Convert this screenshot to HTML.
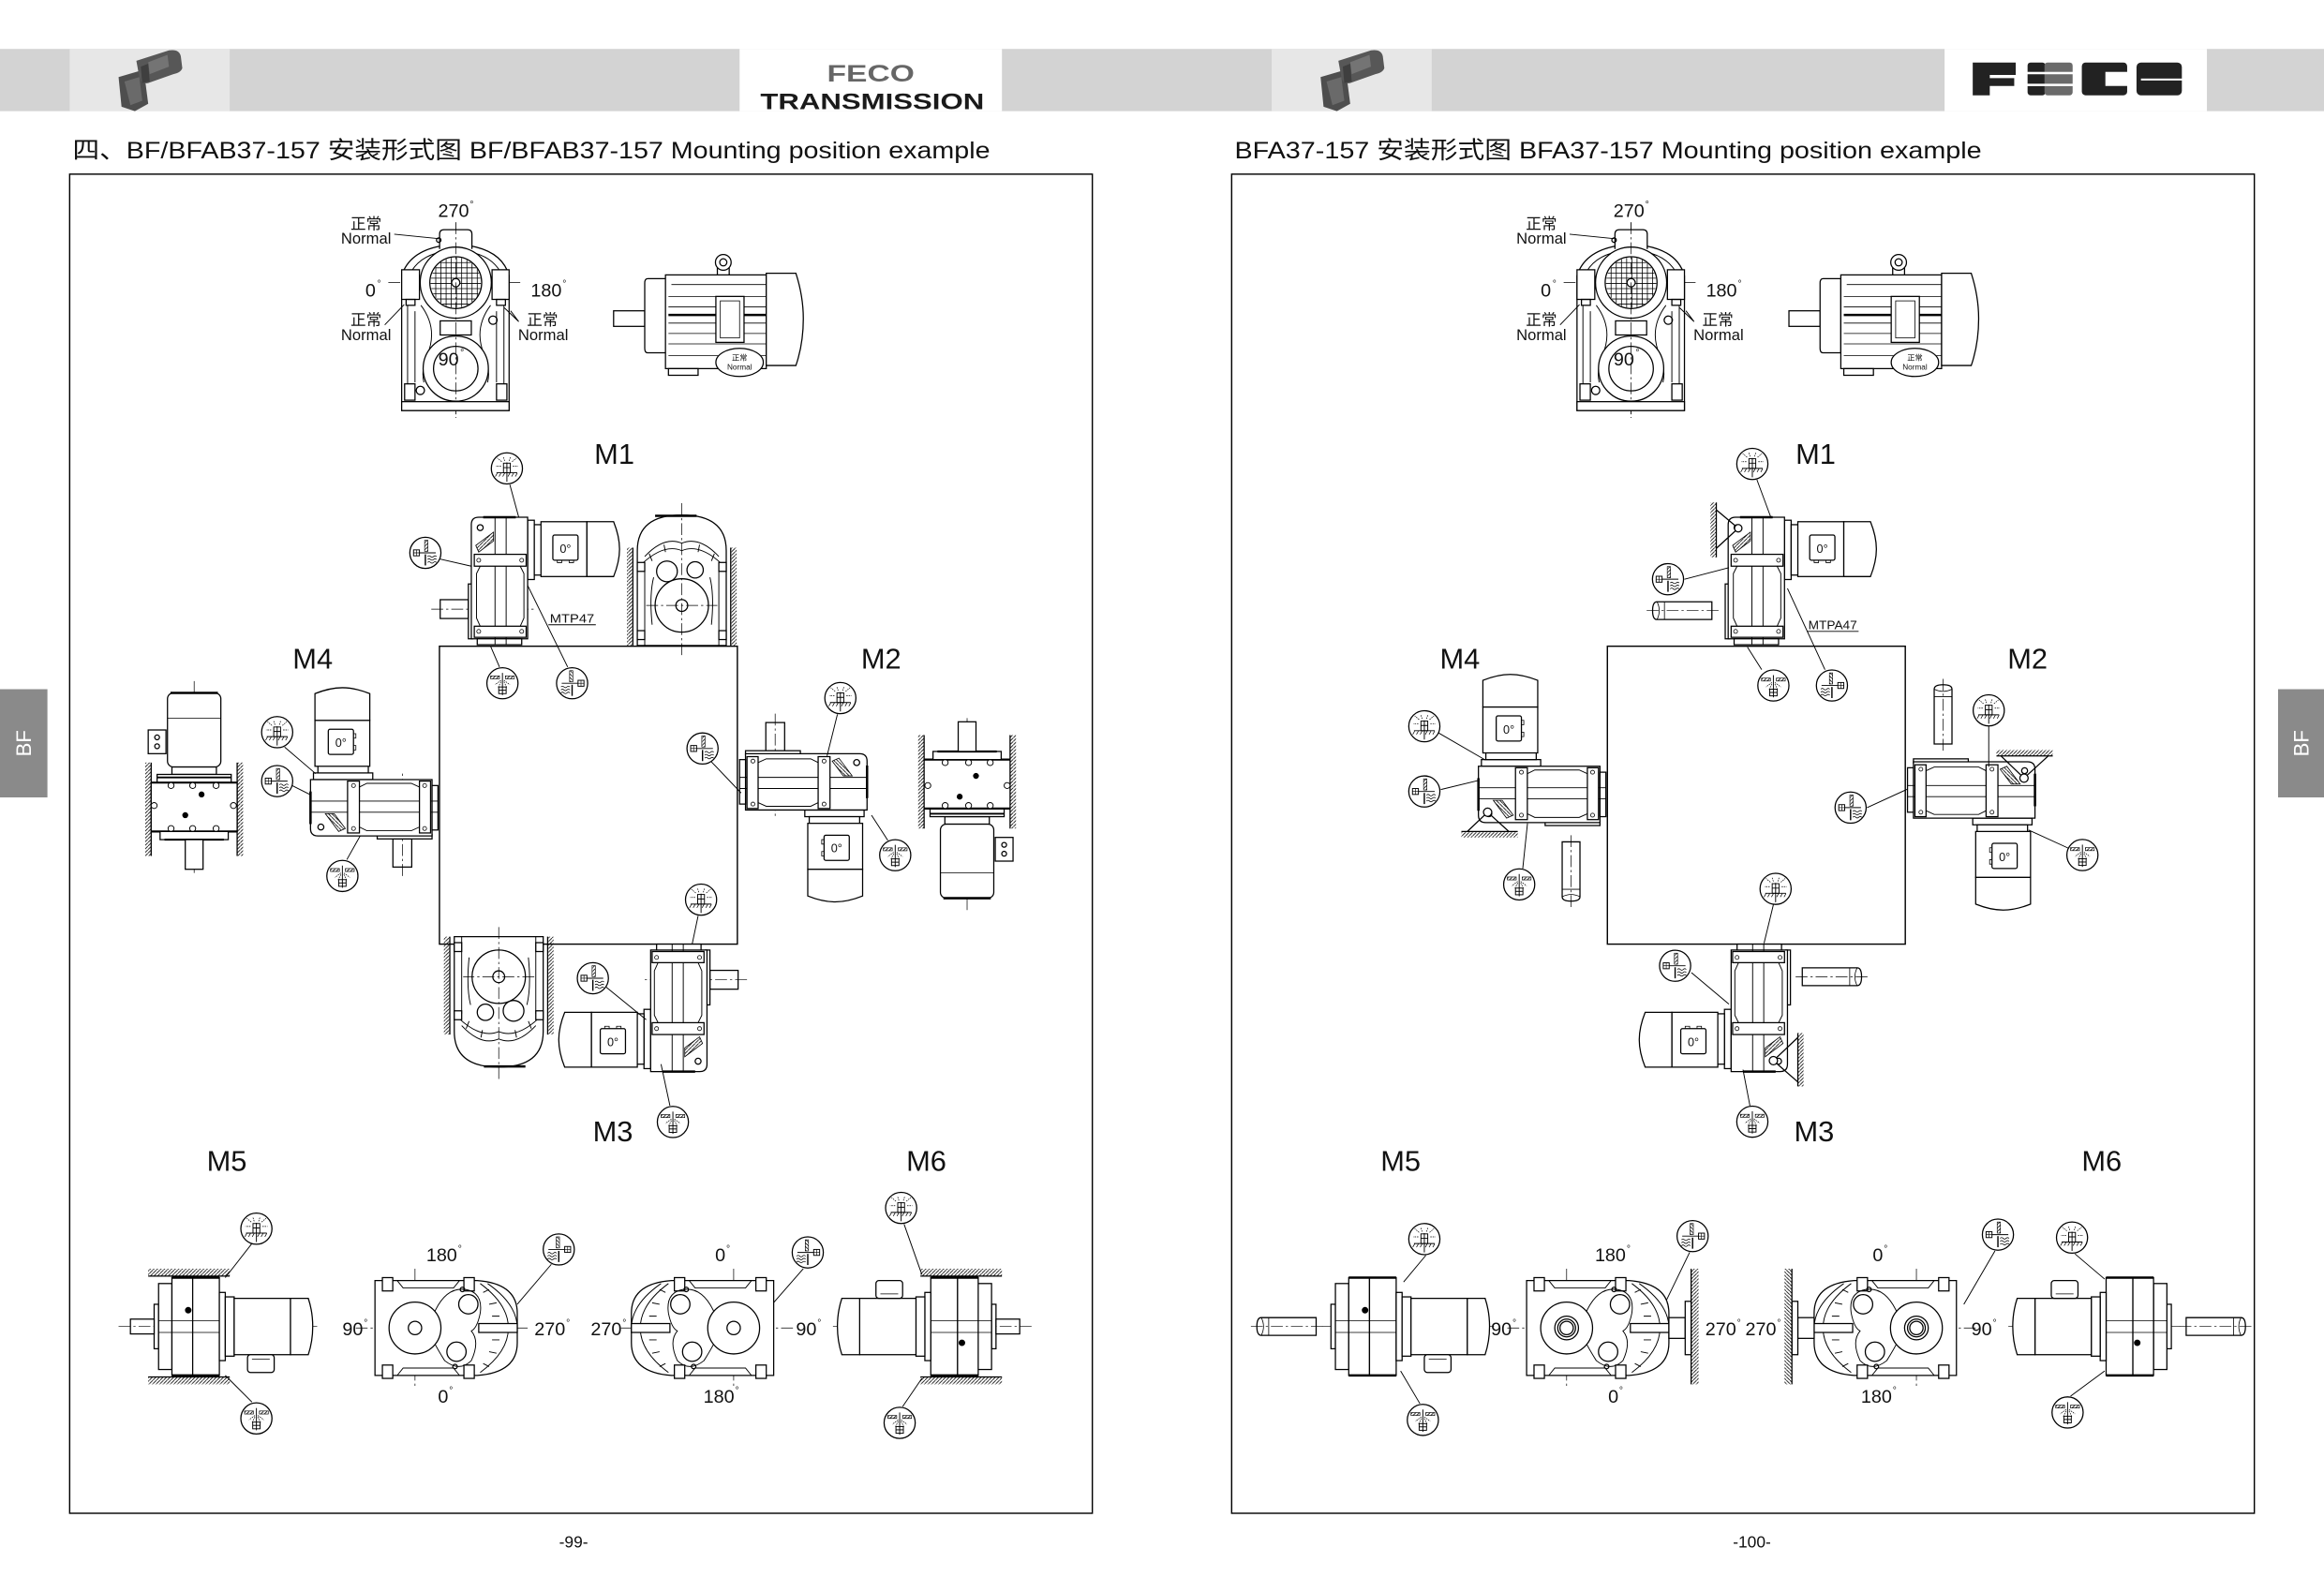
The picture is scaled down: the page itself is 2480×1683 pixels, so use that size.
<!DOCTYPE html>
<html><head><meta charset="utf-8"><style>
html,body{margin:0;padding:0;background:#fff;}
svg{display:block;}
text{font-family:"Liberation Sans","Noto Sans CJK SC",sans-serif;fill:#111;stroke:none;}
</style></head><body>
<svg width="2480" height="1683" viewBox="0 0 1568 1064" preserveAspectRatio="none" xmlns="http://www.w3.org/2000/svg">
<defs>
<pattern id="h" patternUnits="userSpaceOnUse" width="2.4" height="2.4"><path d="M0 2.4L2.4 0" stroke="#000" stroke-width=".5"/></pattern>
<clipPath id="gc"><circle cx="307.5" cy="190.7" r="17"/></clipPath>

<g id="oT" fill="none" stroke="#000" stroke-width=".6">
<circle r="10.5" fill="#fff" stroke-width=".8"/>
<path d="M-7 3H7"/>
<path d="M-6.5 3.2l-1.3 2.3M-4 3.2l-1.3 2.3M-1.5 3.2l-1.3 2.3M2 3.2l-1.3 2.3M4.5 3.2l-1.3 2.3M7 3.2l-1.3 2.3" stroke-width=".45"/>
<rect x="-2.3" y="-3.5" width="4.6" height="6.5"/>
<path d="M0-4V9M-2.3-.5H2.3"/>
<path d="M-3.5-4.5l-3-2.5M3.5-4.5l3-2.5M-4-1.5h-3.5M4-1.5h3.5M-1.5-5l-1-3M1.5-5l1-3" stroke-width=".45" stroke-dasharray="1 .6"/>
</g>
<g id="oB" fill="none" stroke="#000" stroke-width=".6">
<circle r="10.5" fill="#fff" stroke-width=".8"/>
<path d="M-8-5h6v2h-6zM2-5h6v2h-6z" fill="url(#h)" stroke-width=".4"/>
<path d="M0-7V8"/>
<path d="M-1-2l-4 3M1-2l4 3M-1-1l-2 4M1-1l2 4" stroke-width=".45" stroke-dasharray="1 .6"/>
<rect x="-2.5" y="2.5" width="5" height="4.5"/>
<path d="M-2.5 4.7H2.5"/>
</g>
<g id="oS" fill="none" stroke="#000" stroke-width=".6">
<circle r="10.5" fill="#fff" stroke-width=".8"/>
<rect x="-.5" y="-8.5" width="2.2" height="7.5" fill="url(#h)" stroke-width=".4"/>
<path d="M-4 0H7"/>
<rect x="-8" y="-2" width="4" height="4"/><path d="M-8 0h4M-6-2v4" stroke-width=".4"/>
<path d="M0 1V8.5" stroke-width=".9"/>
<path d="M1.5 2.5q1-1 2 0t2 0t2 0M1.5 4.5q1-1 2 0t2 0t2 0M1.5 6.5q1-1 2 0t2 0t2 0" stroke-width=".5"/>
</g>

<g id="svc" fill="none" stroke="#000" stroke-width=".8">
<rect x="18" y="-41" width="4.5" height="40" fill="#fff"/>
<rect x="22.5" y="-38" width="5" height="34" fill="#fff"/>
<rect x="27" y="-40" width="31" height="37" fill="#fff"/>
<path d="M58-40H76Q80-30 80-21.5Q80-13 76-3H58Z" fill="#fff"/>
<rect x="35" y="-31" width="17" height="17" rx="1.2" fill="#fff"/>
<path d="M38-14v1.6h3V-14M46-14v1.6h3V-14" stroke-width=".5"/>
<rect x="-22" y="2" width="3" height="37" fill="#fff"/>
<path d="M-20 39V-38Q-20-43-15-43H18V39Z" fill="#fff"/>
<path d="M-12-43H10" stroke-width="1.6"/>
<rect x="-16" y="39" width="30" height="4" fill="#fff"/>
<path d="M-4-43V43M3.5-43V43" stroke-width=".6"/>
<path d="M-17-24L-5-33V-27L-15-19.5Z" fill="url(#h)" stroke-width=".5"/>
<circle cx="-14" cy="-36" r="2"/>
<rect x="-18" y="-18" width="35" height="8" fill="#fff"/>
<path d="M-14-10L-16.5-5V25L-14 30.5M13-10L15.5-5V25L13 30.5" stroke-width=".6"/>
<rect x="-18" y="30.5" width="35" height="7.5" fill="#fff"/>
<g stroke-width=".5"><circle cx="-15" cy="-14" r="1.3"/><circle cx="14" cy="-14" r="1.3"/><circle cx="-15" cy="34" r="1.3"/><circle cx="14" cy="34" r="1.3"/></g>
</g>
<g id="svs" fill="none" stroke="#000">
<rect x="-41" y="12.6" width="19" height="12.7" fill="#fff" stroke-width=".8"/>
<path d="M-47 19H22" stroke-width=".45" stroke-dasharray="8 2 1.5 2"/>
</g>

<g id="fv" fill="none" stroke="#000" stroke-width=".8">
<rect x="-37" y="-22" width="4" height="66" fill="url(#h)" stroke="none"/>
<rect x="33" y="-22" width="4" height="66" fill="url(#h)" stroke="none"/>
<path d="M-33-22V44M33-22V44"/>
<path d="M-30 44V-20Q-30-44 0-44Q30-44 30-20V44Z" fill="#fff"/>
<path d="M-18-43.5H10" stroke-width="1.6"/>
<path d="M-25-16Q-12-30 0-25Q12-30 25-16M-27-11Q-12-25 0-20Q12-25 27-11" stroke-width=".6"/>
<path d="M-22-18l2 5M-12-24l1 5M12-24l-1 5M22-18l-2 5" stroke-width=".6"/>
<path d="M-25 44V-8M25 44V-8" stroke-width=".6"/>
<path d="M-19-2Q-22 10-20 30M19-2Q22 10 20 30" stroke-width=".6"/>
<circle cx="-10" cy="-6" r="7"/><circle cx="9" cy="-7" r="5.5"/>
<circle cx="0" cy="17" r="18" fill="#fff"/><circle cx="0" cy="17" r="4"/>
<rect x="-30" y="-12" width="5" height="6" fill="#fff"/><rect x="25" y="-12" width="5" height="6" fill="#fff"/>
<rect x="-30" y="34" width="5" height="6" fill="#fff"/><rect x="25" y="34" width="5" height="6" fill="#fff"/>
<path d="M0-52V52M-24 17H24" stroke-width=".45" stroke-dasharray="8 2 1.5 2"/>
</g>

<g id="tv" fill="none" stroke="#000" stroke-width=".8">
<rect x="-33" y="-30" width="4" height="63" fill="url(#h)" stroke="none"/>
<rect x="29" y="-30" width="4" height="63" fill="url(#h)" stroke="none"/>
<path d="M-29-30V33M29-30V33"/>
<path d="M0-85V46" stroke-width=".45" stroke-dasharray="8 2 1.5 2"/>
<rect x="-18" y="-77" width="36" height="50" rx="4" fill="#fff"/>
<path d="M-16-77H16" stroke-width="1.6"/>
<path d="M-18-60H18" stroke-width=".5"/>
<rect x="-31" y="-52" width="12" height="16" fill="#fff"/>
<circle cx="-25" cy="-47" r="1.6"/><circle cx="-25" cy="-41" r="1.6"/>
<rect x="-15" y="-27" width="30" height="5" fill="#fff"/>
<rect x="-25" y="-22" width="50" height="5.5" fill="#fff"/>
<path d="M-25-20H25" stroke-width="1.2"/>
<rect x="-29" y="-16.5" width="58" height="33" fill="#fff"/>
<path d="M-29-16.5H29M-29 16.5H29" stroke-width="1.4"/>
<g fill="#fff" stroke-width=".6"><circle cx="-15.6" cy="-14.5" r="2"/><circle cx="-1" cy="-14.5" r="2"/><circle cx="14.8" cy="-14.5" r="2"/><circle cx="-15.6" cy="14.5" r="2"/><circle cx="-1" cy="14.5" r="2"/><circle cx="14.8" cy="14.5" r="2"/><circle cx="-27" cy="-1" r="2"/><circle cx="26.5" cy="-1" r="2"/></g>
<circle cx="5" cy="-8.5" r="1.6" fill="#000"/><circle cx="-6" cy="5.5" r="1.6" fill="#000"/>
<rect x="-23" y="16.5" width="46" height="5.5" fill="#fff"/>
<path d="M-20 22H20" stroke-width="1.4"/>
<rect x="-6" y="22" width="12" height="20" fill="#fff"/>
</g>

<g id="ev" fill="none" stroke="#000" stroke-width=".8">
<path d="M240 896H356M280 856V936" stroke-width=".45" stroke-dasharray="8 2 1.5 2"/>
<path d="M253 864H322Q349 866 349 886V906Q349 926 322 928H253Z" fill="#fff"/>
<path d="M268 864L272 869H306L310 864M268 928L272 923H306L310 928" stroke-width=".6"/>
<rect x="258" y="862" width="7" height="9" fill="#fff"/>
<rect x="313" y="862" width="7" height="9" fill="#fff"/>
<rect x="258" y="921" width="7" height="9" fill="#fff"/>
<rect x="313" y="921" width="7" height="9" fill="#fff"/>
<path d="M292 888Q300 868 314 870Q326 872 324 886Q322 896 318 898Q324 905 318 918Q310 926 300 918Q295 910 292 904" stroke-width=".6"/>
<circle cx="280" cy="896" r="17.5" fill="#fff"/>
<circle cx="280" cy="896" r="4.5"/>
<circle cx="316" cy="880" r="6.5"/>
<circle cx="308" cy="912" r="6.5"/>
<circle cx="312" cy="870" r="1.5"/><circle cx="307" cy="922" r="1.5"/>
<path d="M324 866Q343 880 343 896Q343 912 324 926M329 866Q349 880 349 896" stroke-width=".6"/>
<path d="M326 872l4-2M330 880l5-1M332 888h5M332 904h5M330 912l5 1M326 920l4 2" stroke-width=".6"/>
<rect x="323" y="893" width="26" height="6" fill="#fff"/>
</g>

<g id="evr">
<use href="#ev" transform="translate(777,0)"/>
<g fill="none" stroke="#000" stroke-width=".8">
<circle cx="1057" cy="896" r="8"/><circle cx="1057" cy="896" r="6"/>
<rect x="1126" y="889" width="11" height="14" fill="#fff"/>
<rect x="1137" y="878" width="4" height="36" fill="#fff"/>
<rect x="1141" y="856" width="5" height="78" fill="url(#h)" stroke="none"/>
<path d="M1141 856V934"/>
</g>
</g>

<g id="ms" fill="none" stroke="#000" stroke-width=".8">
<path d="M98 895H216" stroke-width=".45" stroke-dasharray="8 2 1.5 2"/>
<rect x="104" y="880" width="3" height="30" fill="#fff"/>
<rect x="107" y="866" width="9" height="58" fill="#fff"/>
<rect x="116" y="862" width="14" height="66" fill="#fff"/>
<rect x="130" y="862" width="18" height="66" fill="#fff"/>
<path d="M116 862H148M116 928H148" stroke-width="1.6"/>
<path d="M107 891H148M107 899H148" stroke-width=".5"/>
<circle cx="127" cy="884" r="1.8" fill="#000"/>
<rect x="148" y="872" width="4" height="46" fill="#fff"/>
<rect x="152" y="875" width="6" height="40" fill="#fff"/>
<rect x="158" y="876" width="38" height="38" fill="#fff"/>
<path d="M196 876H208Q211 885 211 895Q211 905 208 914H196Z" fill="#fff"/>
<rect x="167" y="914" width="18" height="12" rx="2" fill="#fff"/>
<path d="M170 917h12" stroke-width=".5"/>
</g>
<g id="msh" fill="none" stroke="#000" stroke-width=".8">
<rect x="88" y="890" width="16" height="10" fill="#fff"/>
<path d="M80 895H104" stroke-width=".45" stroke-dasharray="8 2 1.5 2"/>
</g>

<g id="bolt" fill="none" stroke="#000" stroke-width=".8">
<path d="M3-6H40V6H3Q0 6 0 0Q0-6 3-6Z" fill="#fff"/>
<path d="M3-6Q6 0 3 6M8-6V6" stroke-width=".5"/>
<path d="M-4 0H46" stroke-width=".45" stroke-dasharray="8 2 1.5 2"/>
</g>

<g id="photo">
<path d="M80 52L97 47L100 70L91 75L82 72Z" fill="#4e4e4e"/>
<path d="M84 55L94 52L96 68L88 71Z" fill="#6a6a6a"/>
<path d="M92 41L114 34Q121 33 122 38L123 46Q122 49 117 50L100 56Q95 57 94 52Z" fill="#575757"/>
<path d="M100 42L113 37L114 45L101 50Z" fill="#747474"/>
<path d="M95 45L100 43L101 55L96 56Z" fill="#3f3f3f"/>
</g>

<g id="topfig" fill="none" stroke="#000" stroke-width=".8">
<path d="M307.5 150V282M262 190.7H352" stroke-width=".45" stroke-dasharray="8 2 1.5 2"/>
<path d="M271 277V186Q276 170 297 166H318Q339 170 343.5 186V277Z" fill="#fff"/>
<path d="M276 186Q282 173 298 170M339 186Q333 173 317 170" stroke-width=".6"/>
<path d="M296.6 168V158Q296.6 155 299.6 155H315.4Q318.4 155 318.4 158V168" fill="#fff"/>
<circle cx="296" cy="162" r="1.5"/>
<rect x="271" y="182" width="12" height="20" fill="#fff"/>
<rect x="332" y="182" width="11.5" height="20" fill="#fff"/>
<rect x="274" y="202" width="6" height="4"/><rect x="335" y="202" width="6" height="4"/>
<path d="M275 206V262M280 210V258M340 206V262M335 210V258" stroke-width=".6"/>
<path d="M284 206Q296 222 288 240Q284 250 286 258M331 206Q319 222 327 240Q331 250 329 258" stroke-width=".6"/>
<circle cx="307.5" cy="190.7" r="24" fill="#fff"/>
<circle cx="307.5" cy="190.7" r="17.5"/>
<g clip-path="url(#gc)" stroke-width=".5"><path d="M290 177.2H325M290 180.7H325M290 184.2H325M290 187.7H325M290 191.2H325M290 194.7H325M290 198.2H325M290 201.7H325M290 205.2H325M294 173V209M297.5 173V209M301 173V209M304.5 173V209M308 173V209M311.5 173V209M315 173V209M318.5 173V209M322 173V209"/></g>
<circle cx="307.5" cy="190.7" r="2.8" fill="#fff"/>
<circle cx="307.5" cy="248.7" r="22" fill="#fff"/>
<circle cx="307.5" cy="248.7" r="15"/>
<rect x="297" y="216.5" width="21" height="9.5" fill="#fff"/>
<path d="M307.5 150V282" stroke-width=".45" stroke-dasharray="8 2 1.5 2"/>
<rect x="273" y="259" width="7" height="11" fill="#fff"/><rect x="335" y="259" width="7" height="11" fill="#fff"/>
<rect x="271" y="271" width="72.5" height="6" fill="#fff"/>
<circle cx="332.6" cy="216" r="2.8"/><circle cx="283.6" cy="263.4" r="2.8"/>
<path d="M266 158L296 161M259.6 219.2L272.7 205.5M350 217L340.2 207.6M350 217L344.5 209.7" stroke-width=".6"/>
<rect x="414" y="209.7" width="21" height="10.5" fill="#fff"/>
<path d="M437 188H449V238H437Q435 238 435 235V191Q435 188 437 188Z" fill="#fff"/>
<rect x="484" y="181" width="8" height="5" fill="#fff"/>
<circle cx="488" cy="177" r="5.3" fill="#fff"/><circle cx="488" cy="177" r="2.4"/>
<path d="M449 185.5H517V248.7H449Z" fill="#fff"/>
<path d="M453 192H517" stroke-width=".6"/>
<path d="M451 200H517M451 207H517M451 218H517M451 225H517M451 232H517M451 240H517" stroke-width=".5"/>
<path d="M451 212.5H517" stroke-width="1.6"/>
<path d="M517 184.4H537Q542 200 542 215Q542 232 537 246.6H517Z" fill="#fff"/>
<rect x="483" y="200" width="19" height="31" fill="#fff"/>
<rect x="486" y="203" width="13" height="25" stroke-width=".5"/>
<rect x="451" y="248.7" width="20" height="4.5" fill="#fff"/>
<ellipse cx="499" cy="244.5" rx="16" ry="9.5" fill="#fff"/>
</g>
</defs>

<!-- HEADER -->
<rect x="0" y="33" width="1568" height="42" fill="#d3d3d3"/>
<rect x="47" y="33" width="108" height="42" fill="#e7e7e7"/>
<rect x="499" y="33" width="177" height="42" fill="#fff"/>
<rect x="858" y="33" width="108" height="42" fill="#e7e7e7"/>
<rect x="1312" y="33" width="177" height="42" fill="#fff"/>
<use href="#photo"/>
<use href="#photo" transform="translate(811,0)"/>
<text x="587.5" y="55" font-size="15.5" font-weight="bold" text-anchor="middle" textLength="59" lengthAdjust="spacingAndGlyphs" style="fill:#666">FECO</text>
<text x="588.5" y="73.5" font-size="15" font-weight="bold" text-anchor="middle" textLength="151" lengthAdjust="spacingAndGlyphs" style="fill:#1a1a1a">TRANSMISSION</text>
<g fill="#222">
<path d="M1331 42.2H1360V50.6H1342.5V52.7H1359V58H1342.5V64.3H1331Z"/>
<rect x="1368" y="42.2" width="12" height="22.1" rx="2"/>
<rect x="1379.4" y="42.2" width="19" height="22.1" rx="2" fill="#6a6a6a"/>
<rect x="1404.6" y="42.2" width="30.6" height="22.1" rx="2.5"/>
<rect x="1441.5" y="42.2" width="30.6" height="22.1" rx="3"/>
</g>
<g fill="#fff">
<rect x="1367" y="48.5" width="32" height="1.6"/><rect x="1367" y="56.5" width="32" height="1.6"/>
<rect x="1420.5" y="48.5" width="16" height="9.5"/>
<rect x="1444.5" y="53" width="29" height="1.3"/>
</g>

<!-- TITLES -->
<text x="49" y="107" font-size="16" textLength="619" lengthAdjust="spacingAndGlyphs">四、BF/BFAB37-157 安装形式图 BF/BFAB37-157 Mounting position example</text>
<text x="833" y="107" font-size="16" textLength="504" lengthAdjust="spacingAndGlyphs">BFA37-157 安装形式图 BFA37-157 Mounting position example</text>

<!-- FRAMES -->
<g fill="none" stroke="#000" stroke-width=".9">
<rect x="47" y="117.5" width="690" height="903.5"/>
<rect x="831" y="117.5" width="690" height="903.5"/>
<rect x="296.5" y="436" width="201" height="201"/>
<rect x="1084.5" y="436" width="201" height="201"/>
</g>

<!-- side tabs -->
<rect x="0" y="465" width="32" height="73" fill="#8a8a8a"/>
<rect x="1537" y="465" width="31" height="73" fill="#8a8a8a"/>
<text transform="translate(21,501.5) rotate(-90)" font-size="14" text-anchor="middle" style="fill:#fff">BF</text>
<text transform="translate(1557.5,501.5) rotate(-90)" font-size="14" text-anchor="middle" style="fill:#fff">BF</text>

<!-- TOP FIGURES -->
<use href="#topfig"/>
<use href="#topfig" transform="translate(793,0)"/>
<g font-size="12.5" text-anchor="middle">
<text x="306" y="146.5">270</text><text x="250" y="200">0</text><text x="368.5" y="200">180</text><text x="302.6" y="246.5">90</text>
<text x="1099" y="146.5">270</text><text x="1043" y="200">0</text><text x="1161.5" y="200">180</text><text x="1095.6" y="246.5">90</text>
</g>
<g font-size="6.5">
<text x="317" y="140">°</text><text x="254.5" y="193.5">°</text><text x="379.5" y="193.5">°</text><text x="310.5" y="240">°</text>
<text x="1110" y="140">°</text><text x="1047.5" y="193.5">°</text><text x="1172.5" y="193.5">°</text><text x="1103.5" y="240">°</text>
</g>
<g font-size="10.5" text-anchor="middle">
<text x="247" y="154.5">正常</text><text x="247" y="164.3">Normal</text>
<text x="247" y="219.5">正常</text><text x="247" y="229.5">Normal</text>
<text x="366" y="219.5">正常</text><text x="366.5" y="229.5">Normal</text>
<text x="1040" y="154.5">正常</text><text x="1040" y="164.3">Normal</text>
<text x="1040" y="219.5">正常</text><text x="1040" y="229.5">Normal</text>
<text x="1159" y="219.5">正常</text><text x="1159.5" y="229.5">Normal</text>
</g>
<g font-size="5.2" text-anchor="middle">
<text x="499" y="243">正常</text><text x="499" y="249.5">Normal</text>
<text x="1292" y="243">正常</text><text x="1292" y="249.5">Normal</text>
</g>

<!-- M LABELS -->
<g font-size="19.5" text-anchor="middle">
<text x="414.5" y="313">M1</text><text x="211" y="451">M4</text><text x="594.5" y="451">M2</text><text x="413.5" y="770">M3</text><text x="153" y="790">M5</text><text x="625" y="790">M6</text>
<text x="1225" y="313">M1</text><text x="985" y="451">M4</text><text x="1368" y="451">M2</text><text x="1224" y="770">M3</text><text x="945" y="790">M5</text><text x="1418" y="790">M6</text>
</g>

<!-- LEFT PAGE MIDDLE -->
<use href="#fv" transform="translate(460,391.5)"/>
<use href="#fv" transform="translate(336.5,676) rotate(180)"/>
<use href="#tv" transform="translate(131,544.5)"/>
<use href="#tv" transform="translate(652.5,529) rotate(180)"/>

<use href="#svs" transform="translate(338,392)"/><use href="#svc" transform="translate(338,392)"/>
<use href="#svs" transform="translate(542,528.5) rotate(90)"/><use href="#svc" transform="translate(542,528.5) rotate(90)"/>
<use href="#svs" transform="translate(252.5,544) rotate(-90)"/><use href="#svc" transform="translate(252.5,544) rotate(-90)"/>
<use href="#svs" transform="translate(457,680) rotate(180)"/><use href="#svc" transform="translate(457,680) rotate(180)"/>

<!-- RIGHT PAGE MIDDLE -->
<use href="#svc" transform="translate(1186,392)"/>
<use href="#svc" transform="translate(1330,534) rotate(90)"/>
<use href="#svc" transform="translate(1040.5,535) rotate(-90)"/>
<use href="#svc" transform="translate(1186,680) rotate(180)"/>

<g font-size="8" text-anchor="middle">
<text x="381.5" y="373">0°</text><text x="564.5" y="575">0°</text><text x="230" y="504">0°</text><text x="413.5" y="706">0°</text>
<text x="1229.5" y="373">0°</text><text x="1352.5" y="581">0°</text><text x="1018" y="495">0°</text><text x="1142.5" y="706">0°</text>
</g>
<text x="371" y="420" font-size="8" textLength="30" lengthAdjust="spacingAndGlyphs">MTP47</text>
<text x="1220" y="424.5" font-size="8" textLength="33" lengthAdjust="spacingAndGlyphs">MTPA47</text>

<g fill="none" stroke="#000" stroke-width=".8">
<rect x="1154" y="339" width="4" height="37" fill="url(#h)" stroke="none"/><path d="M1158 339V376M1158 344L1172.8 356.4L1158 370"/><circle cx="1172.8" cy="356.4" r="2.5" fill="#fff"/>
<rect x="986" y="561" width="38" height="4" fill="url(#h)" stroke="none"/><path d="M986 561H1024M990 561L1003.7 548L1018 561"/><circle cx="1003.7" cy="548" r="2.8" fill="#fff"/>
<rect x="1347" y="506" width="38" height="4" fill="url(#h)" stroke="none"/><path d="M1347 510H1385M1350 510L1365.6 525L1382 510"/><circle cx="1365.6" cy="525" r="2.8" fill="#fff"/>
<rect x="1213" y="697" width="4" height="36" fill="url(#h)" stroke="none"/><path d="M1213 697V733M1213 700L1196.5 715.6L1213 730"/><circle cx="1196.5" cy="715.6" r="2.8" fill="#fff"/>
</g>
<use href="#bolt" transform="translate(1115,412)"/>
<use href="#bolt" transform="translate(1256,659) scale(-1,1)"/>
<use href="#bolt" transform="translate(1060,608) rotate(-90)"/>
<use href="#bolt" transform="translate(1311,462) rotate(90)"/>

<g stroke="#000" stroke-width=".6" fill="none">
<path d="M370 421.5H402M1219 426H1254"/>
<path d="M344 327L350 349M296 377L318 382M337 450L331 436M383 450L356 395"/>
<path d="M192 504L213 522M197 530L209 536M234 580L243 564"/>
<path d="M565 482L558 510M480 514L500 535M599 567L588 550"/>
<path d="M471 618L467 637M409 666L436 688M452 746L446 718"/>
<path d="M1185.4 323.7L1195 349.6M1136.5 390.8L1166.5 383M1188.6 451.8L1179 436.6M1231.3 451.8L1206 397"/>
<path d="M970.6 494.5L1002.2 512.8M972.1 532.7L997.4 526.6M1027.4 586L1030.6 555.5"/>
<path d="M1341.8 490L1341.8 517.4M1259.7 544.9L1286.6 532.6M1395.6 572.3L1368.7 560"/>
<path d="M1141.2 656.2L1166.5 677.5M1196.5 610.4L1190.2 636.4M1180.7 746.1L1176 721.7"/>
<path d="M170 839L152 862M170 946L152 928M372 853L349 880M542 856L521 880M610 826L622 860M609 949L622 930"/>
<path d="M962 847L947 865M958 947L945 925M1140 845L1123 880M1346 844L1325 880M1400 846L1420 863M1397 942L1420 925"/>
</g>

<!-- symbols left page -->
<use href="#oT" transform="translate(342,316)"/>
<use href="#oS" transform="translate(287,373)"/>
<use href="#oB" transform="translate(339,461)"/>
<use href="#oS" transform="translate(386,461) scale(-1,1)"/>
<use href="#oT" transform="translate(187,494)"/>
<use href="#oS" transform="translate(187,527)"/>
<use href="#oB" transform="translate(231,591)"/>
<use href="#oT" transform="translate(567,471)"/>
<use href="#oS" transform="translate(474,505)"/>
<use href="#oB" transform="translate(604,577)"/>
<use href="#oT" transform="translate(473,607)"/>
<use href="#oS" transform="translate(400,660)"/>
<use href="#oB" transform="translate(454,757)"/>

<!-- symbols right page -->
<use href="#oT" transform="translate(1182.3,313)"/>
<use href="#oS" transform="translate(1125.4,390.8)"/>
<use href="#oB" transform="translate(1196.5,462.5)"/>
<use href="#oS" transform="translate(1236,462.5) scale(-1,1)"/>
<use href="#oT" transform="translate(961,490)"/>
<use href="#oS" transform="translate(961,534)"/>
<use href="#oB" transform="translate(1025,596.7)"/>
<use href="#oT" transform="translate(1341.8,479.3)"/>
<use href="#oS" transform="translate(1248.6,544.9)"/>
<use href="#oB" transform="translate(1405,576.9)"/>
<use href="#oT" transform="translate(1198,599.7)"/>
<use href="#oS" transform="translate(1130.2,651.6)"/>
<use href="#oB" transform="translate(1182.3,756.8)"/>

<!-- BOTTOM ROW LEFT -->
<g fill="none" stroke="#000" stroke-width=".8">
<rect x="100" y="856" width="55" height="5" fill="url(#h)" stroke="none"/><path d="M100 861H155"/>
<rect x="100" y="929" width="55" height="5" fill="url(#h)" stroke="none"/><path d="M100 929H155"/>
<rect x="621" y="856" width="55" height="5" fill="url(#h)" stroke="none"/><path d="M621 861H676"/>
<rect x="621" y="929" width="55" height="5" fill="url(#h)" stroke="none"/><path d="M621 929H676"/>
</g>
<use href="#ms"/><use href="#msh"/>
<use href="#ms" transform="rotate(180 388 895)"/><use href="#msh" transform="rotate(180 388 895)"/>
<use href="#ev"/>
<use href="#ev" transform="translate(775,0) scale(-1,1)"/>

<!-- BOTTOM ROW RIGHT -->
<use href="#ms" transform="translate(794,0)"/>
<use href="#ms" transform="rotate(180 1181.5 895) translate(794,0)"/>
<use href="#bolt" transform="translate(848,895)"/>
<use href="#bolt" transform="translate(1515,895) scale(-1,1)"/>
<use href="#evr"/>
<use href="#evr" transform="translate(2350,0) scale(-1,1)"/>

<use href="#oT" transform="translate(173,829)"/>
<use href="#oB" transform="translate(173,957)"/>
<use href="#oS" transform="translate(377,843) scale(-1,1)"/>
<use href="#oS" transform="translate(545,845) scale(-1,1)"/>
<use href="#oT" transform="translate(608,815)"/>
<use href="#oB" transform="translate(607,960)"/>
<use href="#oT" transform="translate(961,836)"/>
<use href="#oB" transform="translate(960,958)"/>
<use href="#oS" transform="translate(1142,834) scale(-1,1)"/>
<use href="#oS" transform="translate(1348,833)"/>
<use href="#oT" transform="translate(1398,835)"/>
<use href="#oB" transform="translate(1395,953)"/>

<g font-size="12.5" text-anchor="middle">
<text x="298" y="851">180</text><text x="299" y="946.5">0</text><text x="238" y="901">90</text><text x="371" y="901">270</text>
<text x="486" y="851">0</text><text x="485" y="946.5">180</text><text x="409" y="901">270</text><text x="544" y="901">90</text>
<text x="1086.5" y="851">180</text><text x="1088.5" y="946.5">0</text><text x="1013" y="901">90</text><text x="1161" y="901">270</text>
<text x="1188" y="901">270</text><text x="1267" y="851">0</text><text x="1266" y="946.5">180</text><text x="1337" y="901">90</text>
</g>
<g font-size="6.5">
<text x="309" y="844.5">°</text><text x="303" y="940">°</text><text x="245.5" y="894.5">°</text><text x="382" y="894.5">°</text>
<text x="490" y="844.5">°</text><text x="496" y="940">°</text><text x="420" y="894.5">°</text><text x="551.5" y="894.5">°</text>
<text x="1097.5" y="844.5">°</text><text x="1092.5" y="940">°</text><text x="1020.5" y="894.5">°</text><text x="1172" y="894.5">°</text>
<text x="1199" y="894.5">°</text><text x="1271" y="844.5">°</text><text x="1277" y="940">°</text><text x="1344.5" y="894.5">°</text>
</g>

<!-- PAGE NUMBERS -->
<text x="387" y="1044" font-size="11" text-anchor="middle">-99-</text>
<text x="1182" y="1044" font-size="11" text-anchor="middle">-100-</text>
</svg>
</body></html>
